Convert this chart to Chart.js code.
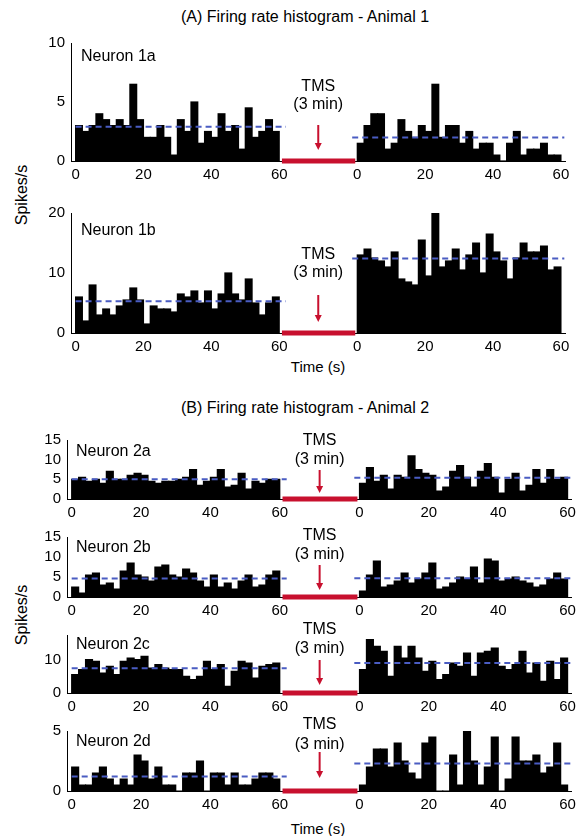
<!DOCTYPE html>
<html>
<head>
<meta charset="utf-8">
<script src="https://cdn.jsdelivr.net/npm/chart.js@4.4.1/dist/chart.umd.min.js"></script>
<style>
  body { margin: 0; background: #fff; font-family: "Liberation Sans", Arial, sans-serif; }
  #page { position: relative; width: 581px; height: 836px; overflow: hidden; }
  canvas { position: absolute; left: 0; }
  .lbl { position: absolute; white-space: nowrap; color: #000; line-height: 1; transform: translate(-50%, -50%); }
  .rot { transform: translate(-50%, -50%) rotate(-90deg); }
</style>
</head>
<body>
<div id="page">
  <div class="lbl" style="left:305px;top:17px;font-size:16px">(A) Firing rate histogram - Animal 1</div>
  <div class="lbl rot" style="left:22px;top:195px;font-size:16px">Spikes/s</div>
  <div class="lbl" style="left:318px;top:366px;font-size:15px">Time (s)</div>
  <div class="lbl" style="left:305px;top:408px;font-size:16px">(B) Firing rate histogram - Animal 2</div>
  <div class="lbl rot" style="left:22px;top:615px;font-size:16px">Spikes/s</div>
  <div class="lbl" style="left:318px;top:828px;font-size:15px">Time (s)</div>
</div>
<script>
// 2 s bins, centres in seconds
const binCenters = [1, 3, 5, 7, 9, 11, 13, 15, 17, 19, 21, 23, 25, 27, 29,
  31, 33, 35, 37, 39, 41, 43, 45, 47, 49, 51, 53, 55, 57, 59]

const neurons = ['Neuron 1a', 'Neuron 1b', 'Neuron 2a', 'Neuron 2b', 'Neuron 2c', 'Neuron 2d']

const pre1a = [3, 2.5, 3, 4, 3.5, 3, 3.5, 3, 6.5, 3.5, 2, 2, 3, 2, 0.5, 3.5, 2.5, 5, 1.5, 2.5, 2, 4, 2.5, 3, 1, 4.5, 2, 2.5, 3.5, 2.5]
const post1a = [1.5, 3, 4, 4, 1, 1.5, 3.5, 2.5, 2, 3, 2.5, 6.5, 2, 3, 3, 1.5, 2.5, 1, 1.5, 1.5, 0.5, 0, 1.5, 2.5, 0.5, 1, 1, 1.5, 0.5, 0.5]
const pre1b = [6, 2, 8, 3, 4, 3, 4.5, 5.5, 7.5, 5.5, 1.5, 4.5, 4, 4, 3.5, 6.5, 6, 7, 5, 7, 4, 6.5, 10, 6.5, 5.5, 9, 5, 3, 5, 6]
const post1b = [13, 14, 12.5, 12, 11, 13.5, 9, 8.5, 8, 15.5, 9.5, 20, 11, 12, 14, 10.5, 13, 15, 10, 16.5, 13.5, 12, 9, 12.5, 15, 13.5, 13.5, 14.5, 10.5, 11]
const pre2a = [5, 5.5, 4.5, 5, 4, 7, 5, 5, 6, 6.5, 6, 4.5, 4, 4.5, 4.5, 5, 5.5, 7.5, 3.5, 4.5, 5.5, 7.5, 3, 3.5, 6.5, 2.5, 4.5, 4, 5, 5]
const post2a = [4, 8, 4.5, 6, 2.5, 6, 5.5, 11, 7.5, 6.5, 6, 2, 3, 7, 8.5, 5.5, 3, 7, 9, 5.5, 1.5, 5, 6.5, 2, 3.5, 7.5, 4, 7.5, 5, 5.5]
const pre2b = [2.5, 1, 5.5, 6, 3, 3.5, 2, 6.5, 8.5, 5.5, 5, 4, 7.5, 8, 5.5, 5, 7, 6, 4, 2.5, 5.5, 2.5, 3.5, 2, 4, 5.5, 2.5, 3, 5.5, 6.5]
const post2b = [1.5, 5.5, 9, 2.5, 3, 4, 6, 3.5, 4.5, 6, 8.5, 2, 2.5, 3.5, 5, 4.5, 7.5, 3.5, 9.5, 9, 4, 4.5, 5, 4, 3.5, 2.5, 3, 4.5, 6, 4.5]
const pre2c = [5.5, 7, 10, 9.5, 6, 8, 5.5, 9.5, 10.5, 10, 11, 7.5, 8.5, 7.5, 7, 7, 5, 4, 5, 9.5, 7, 8.5, 2, 6.5, 9.5, 9, 4.5, 8, 8.5, 9]
const post2c = [7, 16, 14, 12.5, 5, 14, 10.5, 14, 10.5, 6.5, 9.5, 4, 5.5, 9, 8, 12, 5, 12, 12.5, 13.5, 8, 7, 8.5, 12.5, 6, 9, 3.5, 9.5, 4, 10.5]
const pre2d = [2, 0.5, 0.5, 1.5, 2, 1, 0.5, 1, 0.5, 3, 2.5, 1, 2, 0.5, 0.5, 0, 1.5, 1.5, 2.5, 0, 1.5, 1.5, 0.5, 1.5, 0.5, 0.5, 1, 1.5, 1.5, 1]
const post2d = [0.5, 2, 3.5, 3.5, 2, 4, 2.5, 1.5, 1, 4, 4.5, 0, 0, 3, 0.5, 5, 2.5, 0.5, 2, 4.5, 0, 1, 4.5, 2.5, 2.5, 3, 1.5, 2, 4, 0.5]

const preRates = [pre1a, pre1b, pre2a, pre2b, pre2c, pre2d]
const postRates = [post1a, post1b, post2a, post2b, post2c, post2d]
const meanPre = [2.9, 5.3, 5.0, 4.6, 7.4, 1.2]
const meanPost = [2.0, 12.4, 5.4, 4.7, 9.0, 2.3]

const yMax = [10, 20, 15, 15, 17.4, 5]
const yTicks = [[0, 5, 10], [0, 10, 20], [0, 5, 10, 15], [0, 5, 10, 15], [0, 10], [0, 5]]
const xTicks = [0, 20, 40, 60]
const tmsText = ['TMS', '(3 min)']

const FONT = '"Liberation Sans", Arial, sans-serif'
const RED = '#c8102e'
const BLUE = '#4a5cc2'
const GAP = 83 // post-TMS recording drawn shifted by this many seconds

// plot box of every row on the page: top, bottom, left, right (px)
const rows = [
  { top: 40, bottom: 161, left: 71, right: 565, nx: 10, ny: 14, tms: 74, min: 56, aTop: 36, aTip: 11 },
  { top: 209.5, bottom: 333, left: 71, right: 565, nx: 10, ny: 18, tms: 78, min: 60, aTop: 38, aTip: 11 },
  { top: 437, bottom: 499, left: 67, right: 572, nx: 9, ny: 12, tms: 58, min: 39, aTop: 29, aTip: 6 },
  { top: 534, bottom: 597, left: 67, right: 572, nx: 9, ny: 11, tms: 61, min: 42, aTop: 32, aTip: 7 },
  { top: 632, bottom: 693, left: 67, right: 572, nx: 9, ny: 10, tms: 63, min: 44, aTop: 33, aTip: 8 },
  { top: 728, bottom: 791, left: 67, right: 572, nx: 9, ny: 11, tms: 66, min: 46, aTop: 39, aTip: 13 }
]

const notes = {
  id: 'notes',
  afterDatasetsDraw(chart, args, o) {
    const { ctx, chartArea: a, scales: { x } } = chart
    const cx = x.getPixelForValue((60 + GAP) / 2)
    ctx.save()
    ctx.fillStyle = '#000'
    ctx.font = '16px ' + FONT
    ctx.textBaseline = 'middle'
    ctx.textAlign = 'left'
    ctx.fillText(o.name, a.left + o.nx, a.top + o.ny)
    ctx.textAlign = 'center'
    ctx.fillText(tmsText[0], cx, a.bottom - o.tms)
    ctx.fillText(tmsText[1], cx, a.bottom - o.min)
    // arrow
    ctx.strokeStyle = RED
    ctx.fillStyle = RED
    ctx.lineWidth = 2
    ctx.beginPath()
    ctx.moveTo(cx, a.bottom - o.aTop)
    ctx.lineTo(cx, a.bottom - o.aTip - 5)
    ctx.stroke()
    ctx.beginPath()
    ctx.moveTo(cx - 3.5, a.bottom - o.aTip - 7)
    ctx.lineTo(cx + 3.5, a.bottom - o.aTip - 7)
    ctx.lineTo(cx, a.bottom - o.aTip)
    ctx.closePath()
    ctx.fill()
    ctx.restore()
  }
}

const page = document.getElementById('page')

rows.forEach((r, i) => {
  const padT = 12
  const axisH = 30
  const cv = document.createElement('canvas')
  cv.width = 581
  cv.height = padT + (r.bottom - r.top) + axisH
  cv.style.top = (r.top - padT) + 'px'
  page.appendChild(cv)

  const bars = binCenters.map((t, k) => ({ x: t, y: preRates[i][k] }))
    .concat(binCenters.map((t, k) => ({ x: t + GAP, y: postRates[i][k] })))

  new Chart(cv, {
    data: {
      datasets: [
        {
          type: 'bar', data: bars, backgroundColor: '#000', borderWidth: 0,
          barPercentage: 1, categoryPercentage: 1, inflateAmount: 0.6, order: 3
        },
        {
          type: 'line', data: [{ x: 0, y: meanPre[i] }, { x: 62, y: meanPre[i] }],
          borderColor: BLUE, borderWidth: 2, borderDash: [6, 4], pointRadius: 0, order: 1
        },
        {
          type: 'line', data: [{ x: GAP - 1.5, y: meanPost[i] }, { x: GAP + 61, y: meanPost[i] }],
          borderColor: BLUE, borderWidth: 2, borderDash: [6, 4], pointRadius: 0, order: 1
        },
        {
          type: 'line', data: [{ x: 60.8, y: 0 }, { x: GAP - 0.6, y: 0 }],
          borderColor: RED, borderWidth: 5, pointRadius: 0, clip: false, order: 2
        }
      ]
    },
    options: {
      responsive: false,
      animation: false,
      layout: { padding: { left: 0, right: 581 - r.right, top: padT, bottom: 0 } },
      plugins: {
        legend: { display: false },
        tooltip: { enabled: false },
        notes: { name: neurons[i], ...r }
      },
      scales: {
        x: {
          type: 'linear', min: -1.35, max: 144.2, offset: false,
          grid: { display: false, drawTicks: false, offset: false },
          border: { color: '#000', width: 1 },
          afterBuildTicks: s => { s.ticks = xTicks.concat(xTicks.map(v => v + GAP)).map(v => ({ value: v })) },
          afterFit: s => { s.height = axisH },
          ticks: {
            color: '#000', font: { family: FONT, size: 15 }, padding: 5,
            maxRotation: 0, autoSkip: false,
            callback: v => v >= GAP ? Math.round(v - GAP) : v
          }
        },
        y: {
          min: 0, max: yMax[i],
          grid: { display: false, drawTicks: false },
          border: { color: '#000', width: 1 },
          afterBuildTicks: s => { s.ticks = yTicks[i].map(v => ({ value: v })) },
          afterFit: s => { s.width = r.left },
          ticks: { color: '#000', font: { family: FONT, size: 15 }, padding: 6, autoSkip: false }
        }
      }
    },
    plugins: [notes]
  })
})
</script>
</body>
</html>
